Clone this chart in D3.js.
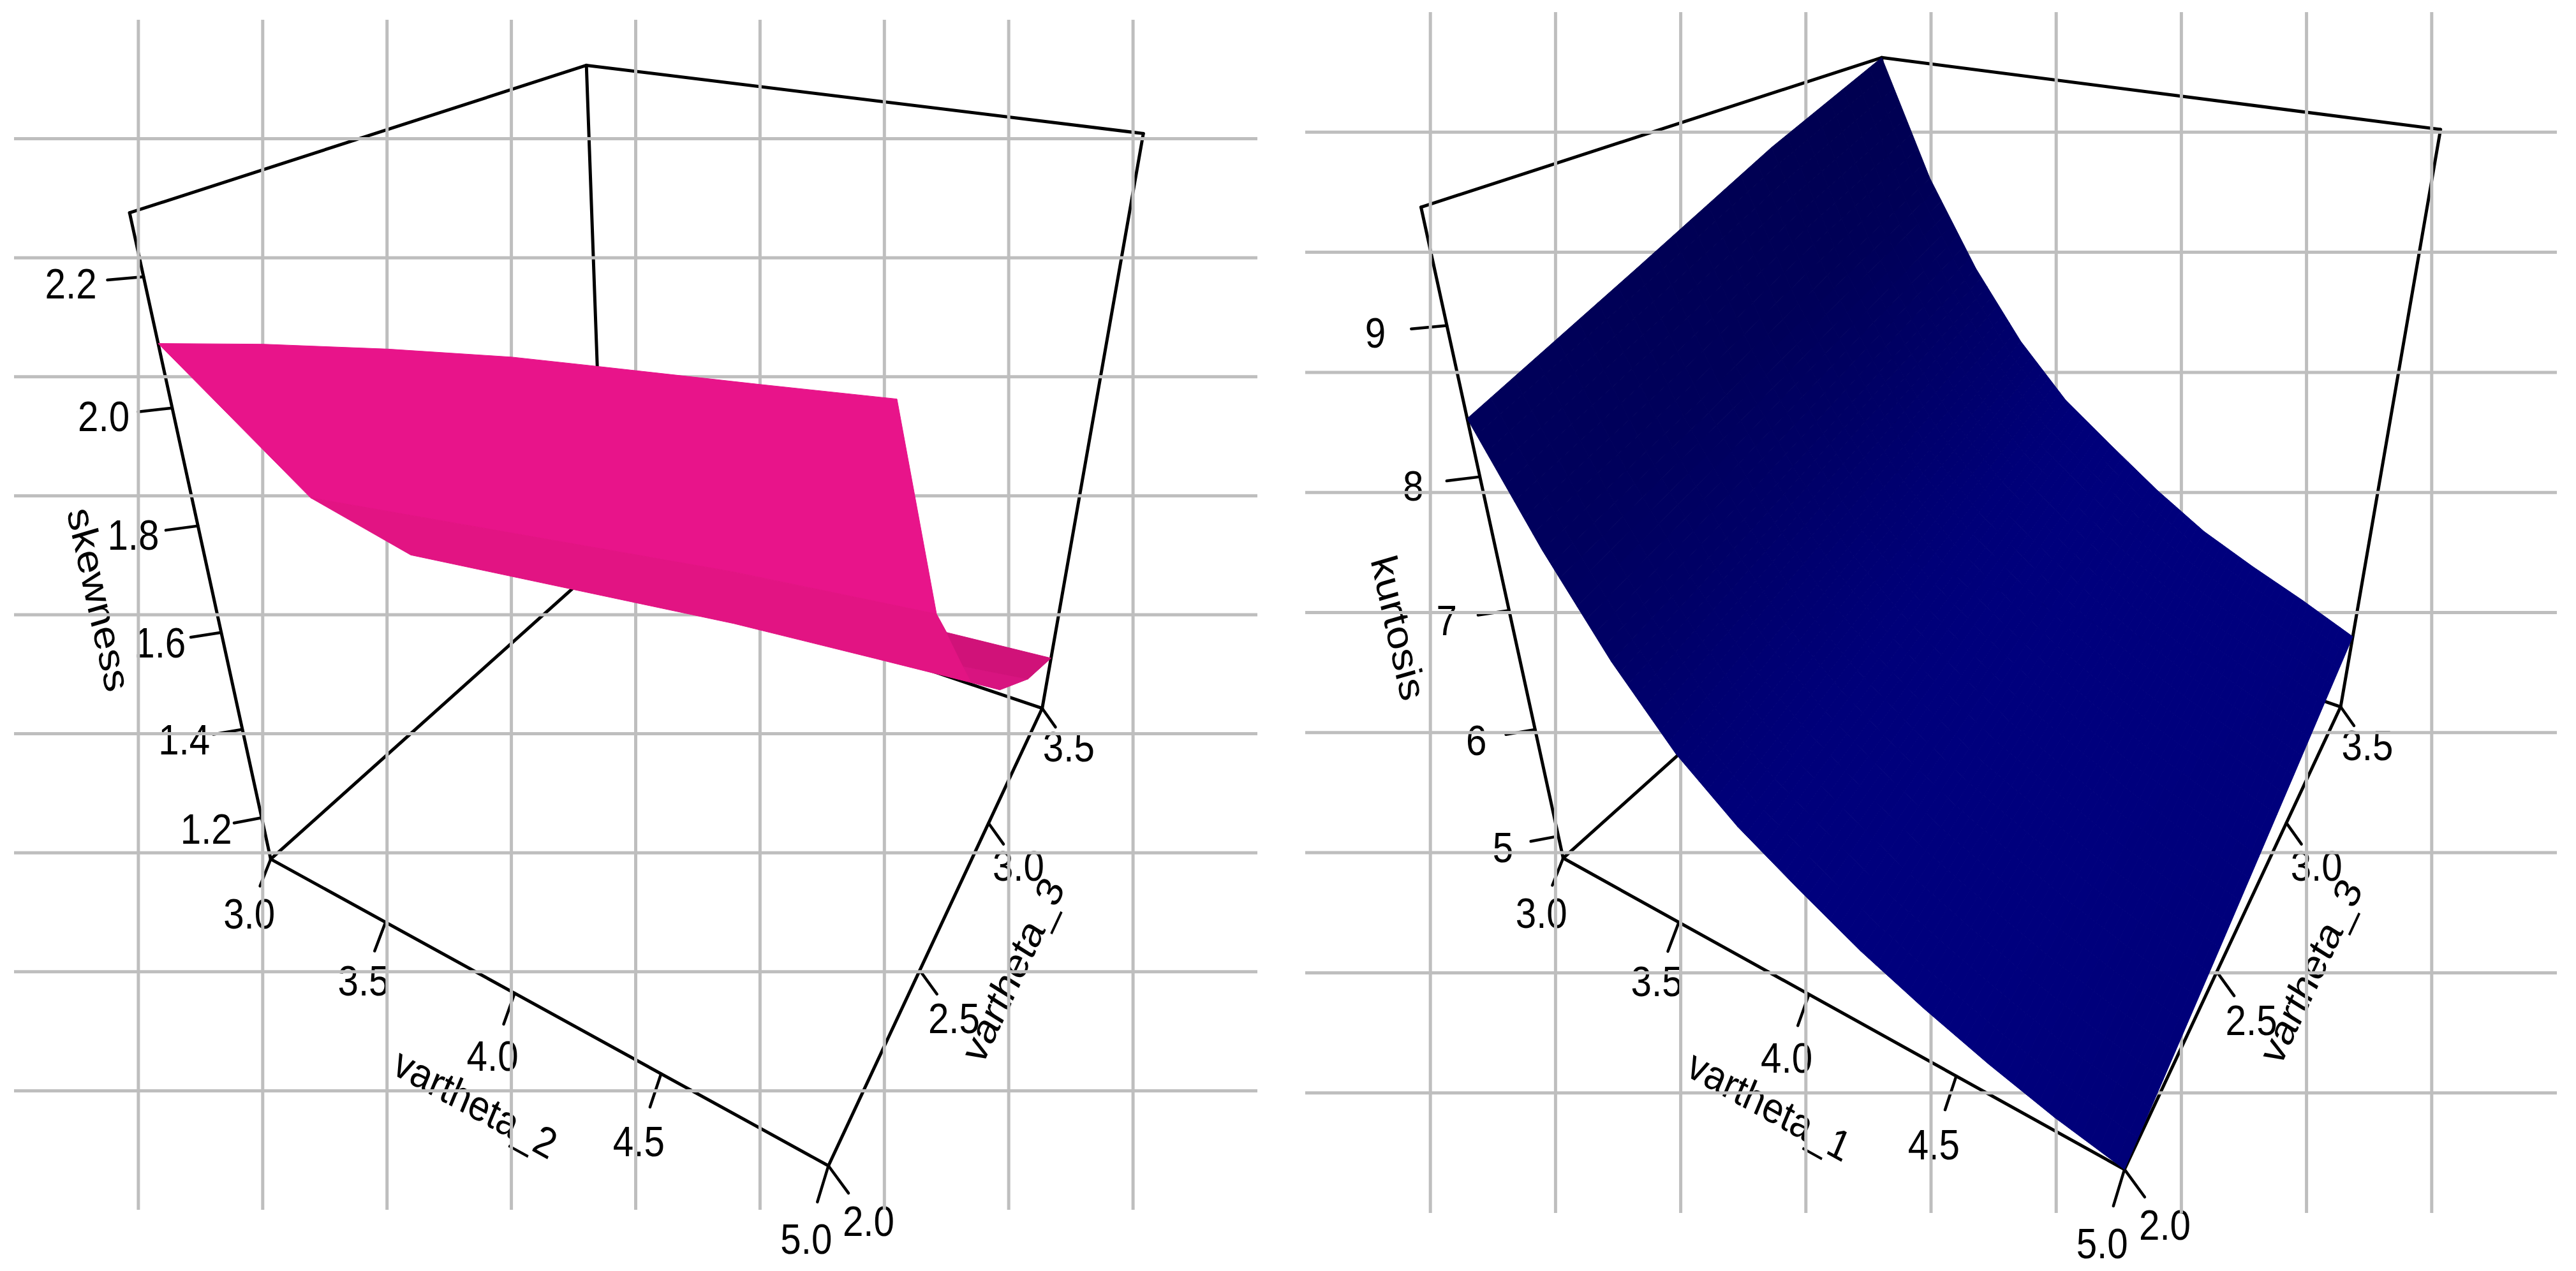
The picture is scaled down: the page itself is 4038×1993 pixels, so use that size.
<!DOCTYPE html>
<html><head><meta charset="utf-8"><script src="https://cdn.jsdelivr.net/npm/d3@7"></script>
<style>html,body{margin:0;background:#fff}svg{display:block}text{font-family:"Liberation Sans",Arial,sans-serif;fill:#000}</style></head>
<body><svg id="c" width="4038" height="1993"></svg>
<script>
// ---- data ----
const xTicks = [3, 3.5, 4, 4.5, 5];
const yTicks = [2, 2.5, 3, 3.5];
const skewTicks = [1.2, 1.4, 1.6, 1.8, 2.0, 2.2];
const kurtTicks = [5, 6, 7, 8, 9];
const xLim = [3, 5], yLim = [2, 3.5], skewLim = [1.10, 2.29], kurtLim = [4.78, 9.70];

// skewness surface: patches of equal shade, each outlined by [vartheta_2, vartheta_3, skewness]
const skewPatchUpper = [[3,2,2.101],[3,2.246,2.031],[3,2.609,1.920],[3,3.08,1.769],[3,3.5,1.625],
  [3.758,3.5,1.679],[4.313,3.5,1.720],[4.551,3.5,1.249],[4.005,3,1.470],[3.479,2,1.928]];
const skewPatchLower = [[3.479,2,1.928],[3.802,2,1.893],[4.691,2,1.963],[5,2,1.981],
  [5,2.61,1.631],[4.599,3.5,1.211],[4.551,3.5,1.249],[4.005,3,1.470]];
const skewPatchTail = [[4.844,3,1.429],[5,3.21,1.327],[5,2.89,1.470],[5,2.61,1.631]];
const skewPatchFold = [[4.599,3.5,1.211],[5,3.5,1.230],[5,3.21,1.327],[4.844,3,1.429]];
const skewPatches = [skewPatchUpper, skewPatchLower, skewPatchTail, skewPatchFold];
const skewPatchColors = ["#E8148A", "#E21483", "#D81480", "#D01279"];

// kurtosis surface on a regular grid
const kurtX = [3, 3.2, 3.4, 3.6, 3.8, 4, 4.2, 4.4, 4.6, 4.8, 5];
const kurtY = [2, 2.5, 3, 3.5];
const kurtZ = [
  [8.40, 7.62, 6.95, 6.41, 6.03, 5.74, 5.47, 5.25, 5.06, 4.90, 4.78],
  [8.85, 7.98, 7.30, 6.76, 6.36, 6.04, 5.76, 5.54, 5.33, 5.16, 5.01],
  [9.31, 8.38, 7.67, 7.11, 6.68, 6.36, 6.07, 5.83, 5.62, 5.45, 5.26],
  [9.70, 8.75, 8.03, 7.45, 7.00, 6.68, 6.37, 6.10, 5.90, 5.72, 5.52]
];

// ---- cameras: homogeneous projection of the unit box to page thousandths ----
const cameraLeft  = [0.58517,0.88475,-0.27299,0.42437, 0.07392,-0.13317,-1.09852,1.34716, -0.22259,0.38210,-0.25489];
const cameraRight = [0.14320,1.66850,-0.78697,2.45035, 0.08250,-0.14062,-1.10296,1.34556, -0.22121,0.38283,-0.25326];

const panels = [
  {cam:cameraLeft, patches:skewPatches, colors:skewPatchColors, zLim:skewLim, zTicks:skewTicks, zFmt:d3.format(".1f"),
   xName:"vartheta_2", yName:"vartheta_3", zName:"skewness", zTitleAt:0.5, gridX:[22,1971], gridY:[31,1897]},
  {cam:cameraRight, X:kurtX, Y:kurtY, Z:kurtZ, zLim:kurtLim, zTicks:kurtTicks, zFmt:d3.format("d"),
   xName:"vartheta_1", yName:"vartheta_3", zName:"kurtosis", zTitleAt:0.45, base:"#000080", power:4,
   gridX:[2046,4008], gridY:[19,1902]}
];

const TICK = 0.03, LABEL = 0.06, TITLE = 0.105, FONT = 67, SQUEEZE = 0.87, SUB = 8;
const GREY = "#BEBEBE", LIGHT = [0.40,-0.30,0.866];
const svg = d3.select("#c");
const tf = d3.format(".1f");

function drawPanel(p){
  const g = svg.append("g");
  const uS = d3.scaleLinear().domain(xLim).range([0,1]);
  const vS = d3.scaleLinear().domain(yLim).range([0,1]);
  const wS = d3.scaleLinear().domain(p.zLim).range([0,1]);
  const m = p.cam;
  const depth = (u,v,w)=> m[8]*u+m[9]*v+m[10]*w+1;
  const proj = (u,v,w)=>{const d=depth(u,v,w);
    return [1000*(m[0]*u+m[1]*v+m[2]*w+m[3])/d, 1000*(m[4]*u+m[5]*v+m[6]*w+m[7])/d];};
  const line = d3.line();

  // box
  const edges = [
    [[0,0,1],[0,1,1]],[[0,1,1],[1,1,1]],[[0,0,0],[0,0,1]],[[1,1,0],[1,1,1]],[[0,1,0],[0,1,1]],
    [[0,0,0],[0,1,0]],[[1,1,0],[0,1,0]],[[0,0,0],[1,0,0]],[[1,0,0],[1,1,0]]
  ];
  g.append("g").selectAll("path").data(edges).join("path")
    .attr("d",e=>line(e.map(q=>proj(...q)))).attr("fill","none").attr("stroke","#000")
    .attr("stroke-width",5).attr("stroke-linecap","round");

  // axes
  const axisSets = [
    {ticks:xTicks, at:d=>[uS(d),0,0], off:t=>[0,-t,-t], fmt:tf},
    {ticks:yTicks, at:d=>[1,vS(d),0], off:t=>[t,0,-t], fmt:tf},
    {ticks:p.zTicks, at:d=>[0,0,wS(d)], off:t=>[-t,-t,0], fmt:p.zFmt}
  ];
  const add=(a,b)=>a.map((d,i)=>d+b[i]);
  axisSets.forEach(ax=>{
    g.append("g").selectAll("path").data(ax.ticks).join("path")
      .attr("d",d=>line([proj(...ax.at(d)),proj(...add(ax.at(d),ax.off(TICK)))]))
      .attr("stroke","#000").attr("stroke-width",4.5).attr("stroke-linecap","round");
    g.append("g").selectAll("text").data(ax.ticks).join("text")
      .attr("font-size",FONT).attr("text-anchor","middle").attr("dy","0.36em")
      .attr("transform",d=>{const q=proj(...add(ax.at(d),ax.off(LABEL)));return `translate(${q[0]},${q[1]}) scale(${SQUEEZE},1)`;})
      .text(ax.fmt);
  });

  // titles
  const titles = [
    {txt:p.xName, mid:[0.5,0,0], off:axisSets[0].off, a:[0,0,0], b:[1,0,0]},
    {txt:p.yName, mid:[1,0.5,0], off:axisSets[1].off, a:[1,0,0], b:[1,1,0]},
    {txt:p.zName, mid:[0,0,p.zTitleAt], off:axisSets[2].off, a:[0,0,1], b:[0,0,0]}
  ];
  g.append("g").selectAll("text").data(titles).join("text")
    .attr("font-size",FONT).attr("text-anchor","middle").attr("dy","0.36em")
    .attr("transform",t=>{
      const q=proj(...add(t.mid,t.off(TITLE))), A=proj(...t.a), B=proj(...t.b);
      const ang=Math.atan2(B[1]-A[1],(B[0]-A[0])/SQUEEZE)*180/Math.PI;
      return `translate(${q[0]},${q[1]}) scale(${SQUEEZE},1) rotate(${ang})`;})
    .text(t=>t.txt);

  // background grid (painted over the box and the text, as in the reference)
  const gx = d3.scaleLinear().domain([0,10]).range(p.gridX);
  const gy = d3.scaleLinear().domain([0,10]).range(p.gridY);
  const gridLines = g.append("g").attr("stroke",GREY).attr("stroke-width",5);
  gridLines.selectAll(".v").data(d3.range(1,10)).join("line").attr("class","v")
    .attr("x1",d=>gx(d)).attr("x2",d=>gx(d)).attr("y1",p.gridY[0]).attr("y2",p.gridY[1]);
  gridLines.selectAll(".h").data(d3.range(1,10)).join("line").attr("class","h")
    .attr("x1",p.gridX[0]).attr("x2",p.gridX[1]).attr("y1",d=>gy(d)).attr("y2",d=>gy(d));

  const surf = g.append("g").attr("stroke-linejoin","round");
  if(p.patches){
    // surface made of flat patches
    surf.selectAll("path").data(p.patches).join("path")
      .attr("d",a=>line(a.map(([x,y,z])=>proj(uS(x),vS(y),wS(z))))+"Z")
      .attr("fill",(a,i)=>p.colors[i]).attr("stroke",(a,i)=>p.colors[i]).attr("stroke-width",1);
    return;
  }

  // grid surface: tone per node from the local slope, cells subdivided so the tone runs smoothly
  const nx=p.X.length, ny=p.Y.length;
  const node=(i,j)=>[uS(p.X[i]),vS(p.Y[j]),wS(p.Z[j][i])];
  const tone=(i,j)=>{
    const i0=Math.max(i-1,0), i1=Math.min(i+1,nx-1), j0=Math.max(j-1,0), j1=Math.min(j+1,ny-1);
    const a=node(i0,j), b=node(i1,j), c=node(i,j0), d=node(i,j1);
    const su=(b[2]-a[2])/(b[0]-a[0]), sv=(d[2]-c[2])/(d[1]-c[1]);
    const len=Math.hypot(su,sv,1);
    const dot=(-su*LIGHT[0]-sv*LIGHT[1]+LIGHT[2])/len;
    return Math.pow((1+dot)/2,p.power);
  };
  const base=d3.rgb(p.base), cells=[];
  const lerp=(a,b,t)=>a+(b-a)*t;
  for(let j=0;j<ny-1;j++)for(let i=0;i<nx-1;i++){
    const n00=node(i,j),n10=node(i+1,j),n01=node(i,j+1),n11=node(i+1,j+1);
    const t00=tone(i,j),t10=tone(i+1,j),t01=tone(i,j+1),t11=tone(i+1,j+1);
    const at=(s,t)=>n00.map((_,k)=>lerp(lerp(n00[k],n10[k],s),lerp(n01[k],n11[k],s),t));
    for(let b=0;b<SUB;b++)for(let a=0;a<SUB;a++){
      const s0=a/SUB,s1=(a+1)/SUB,t0=b/SUB,t1=(b+1)/SUB,sm=(a+.5)/SUB,tm=(b+.5)/SUB;
      const f=lerp(lerp(t00,t10,sm),lerp(t01,t11,sm),tm);
      const q=[at(s0,t0),at(s1,t0),at(s1,t1),at(s0,t1)];
      cells.push({q,c:d3.rgb(base.r*f,base.g*f,base.b*f).formatHex(),d:d3.mean(q,r=>depth(...r))});
    }
  }
  cells.sort((a,b)=>b.d-a.d);
  surf.selectAll("path").data(cells).join("path")
    .attr("d",c=>line(c.q.map(r=>proj(...r)))+"Z")
    .attr("fill",c=>c.c).attr("stroke",c=>c.c).attr("stroke-width",1);
}
panels.forEach(drawPanel);
</script></body></html>
